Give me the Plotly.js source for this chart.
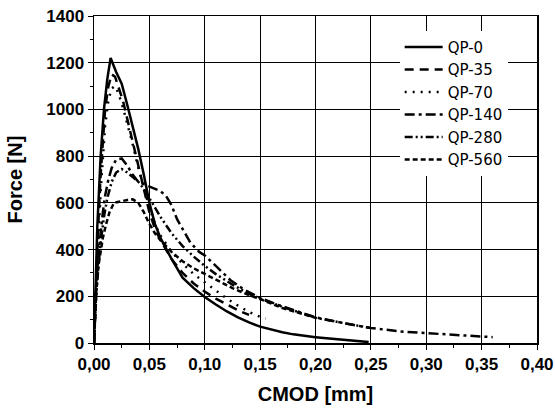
<!DOCTYPE html>
<html><head><meta charset="utf-8">
<script src="https://cdn.plot.ly/plotly-3.0.1.min.js"></script>
<style>html,body{margin:0;padding:0;background:#fff}#c{width:555px;height:412px}</style>
</head><body><div id="c"></div>
<script>
const names = ["QP-0","QP-35","QP-70","QP-140","QP-280","QP-560"];
const x_qp0 = [0,0.003,0.006,0.009,0.012,0.015,0.02,0.025,0.03,0.035,0.04,0.045,0.05,0.055,0.06,0.07,0.08,0.09,0.1,0.11,0.12,0.13,0.14,0.15,0.16,0.17,0.18,0.19,0.2,0.21,0.22,0.23,0.24,0.248];
const y_qp0 = [0,500,800,1000,1130,1220,1160,1110,1020,930,830,720,600,510,450,360,280,235,197,165,135,110,88,70,57,46,37,30,25,20,15,11,7,4];
const x_qp35 = [0,0.002,0.004,0.006,0.008,0.01,0.013,0.016,0.019,0.022,0.026,0.03,0.035,0.04,0.045,0.05,0.055,0.06,0.07,0.08,0.09,0.1,0.11,0.12,0.13,0.14];
const y_qp35 = [0,300,520,720,880,1000,1100,1150,1140,1100,1040,960,860,760,660,560,490,440,360,300,255,220,190,165,140,120];
const x_qp70 = [0,0.002,0.004,0.006,0.008,0.01,0.013,0.016,0.019,0.022,0.026,0.03,0.035,0.04,0.045,0.05,0.055,0.06,0.07,0.08,0.09,0.1,0.11,0.12,0.13,0.14,0.15,0.155];
const y_qp70 = [0,250,450,650,800,930,1040,1090,1100,1070,1010,940,850,750,660,580,510,460,390,340,295,260,225,190,160,133,112,105];
const x_qp140 = [0,0.002,0.004,0.006,0.008,0.01,0.013,0.016,0.02,0.025,0.03,0.035,0.04,0.045,0.05,0.055,0.06,0.065,0.07,0.075,0.08,0.087,0.095,0.1,0.11,0.123,0.135,0.15,0.165,0.18,0.2,0.22,0.25,0.28,0.3,0.33,0.36];
const y_qp140 = [0,250,380,480,560,630,700,750,785,790,760,720,690,680,670,660,650,630,590,530,490,430,390,375,330,270,230,193,165,140,110,90,64,48,42,32,25];
const x_qp280 = [0,0.002,0.004,0.006,0.009,0.012,0.016,0.02,0.025,0.03,0.035,0.04,0.045,0.05,0.055,0.06,0.07,0.08,0.09,0.1,0.11,0.125,0.14,0.15,0.17,0.19,0.2,0.22,0.24,0.25];
const y_qp280 = [0,200,330,430,540,620,690,730,745,730,710,690,660,620,580,540,470,415,370,330,295,250,210,190,155,122,108,90,72,64];
const x_qp560 = [0,0.002,0.004,0.006,0.008,0.011,0.014,0.018,0.022,0.026,0.03,0.035,0.04,0.045,0.05,0.055,0.06,0.07,0.08,0.09,0.1,0.11,0.125,0.14,0.15,0.17,0.19,0.2];
const y_qp560 = [0,220,330,400,450,510,560,600,605,610,612,615,600,560,510,470,440,390,350,320,295,270,235,205,188,150,120,108];
const xTickVals = [0,0.05,0.1,0.15,0.2,0.25,0.3,0.35,0.4];
const xTickText = ["0,00","0,05","0,10","0,15","0,20","0,25","0,30","0,35","0,40"];

const xs = [x_qp0,x_qp35,x_qp70,x_qp140,x_qp280,x_qp560];
const ys = [y_qp0,y_qp35,y_qp70,y_qp140,y_qp280,y_qp560];
const dashes = ["solid","9px,6px","2px,6px","10px,4px,3px,4px","8px,3px,2px,3px,2px,3px","5px,3px"];
const traces = names.map((n,i)=>({
  x: xs[i], y: ys[i], name: n, type: "scatter", mode: "lines",
  line: {color: "#000", width: 2.5, dash: dashes[i]}
}));
const fam = "Liberation Sans, Arial, sans-serif";
const axFont = {family: fam, size: 20, color: "#000", weight: 700};
const tickFont = {family: fam, size: 17, color: "#000", weight: 700};
const layout = {
  width: 555, height: 412,
  margin: {l: 94, r: 18, t: 16, b: 69},
  paper_bgcolor: "#fff", plot_bgcolor: "#fff",
  showlegend: true,
  legend: {x: 0.69, y: 0.955, xanchor: "left", yanchor: "top", bgcolor: "#fff",
    font: {family: "DejaVu Sans, sans-serif", size: 15, color: "#000"},
    itemwidth: 38, tracegroupgap: 0},
  xaxis: {range: [0, 0.4], tickvals: xTickVals, ticktext: xTickText,
    showgrid: true, gridcolor: "#000", gridwidth: 1,
    showline: true, linecolor: "#000", linewidth: 1.5, mirror: true,
    ticks: "outside", ticklen: 5, tickcolor: "#000",
    minor: {dtick: 0.025, ticks: "outside", ticklen: 3, tickcolor: "#000", showgrid: false},
    zeroline: false, tickfont: tickFont,
    title: {text: "CMOD [mm]", font: axFont, standoff: 14}},
  yaxis: {range: [0, 1400], dtick: 200,
    showgrid: true, gridcolor: "#000", gridwidth: 1,
    showline: true, linecolor: "#000", linewidth: 1.5, mirror: true,
    ticks: "outside", ticklen: 5, tickcolor: "#000",
    minor: {dtick: 100, ticks: "outside", ticklen: 3, tickcolor: "#000", showgrid: false},
    zeroline: false, tickfont: tickFont,
    title: {text: "Force [N]", font: axFont, standoff: 18}}
};
Plotly.newPlot("c", traces, layout, {displayModeBar: false, staticPlot: true});
</script></body></html>
